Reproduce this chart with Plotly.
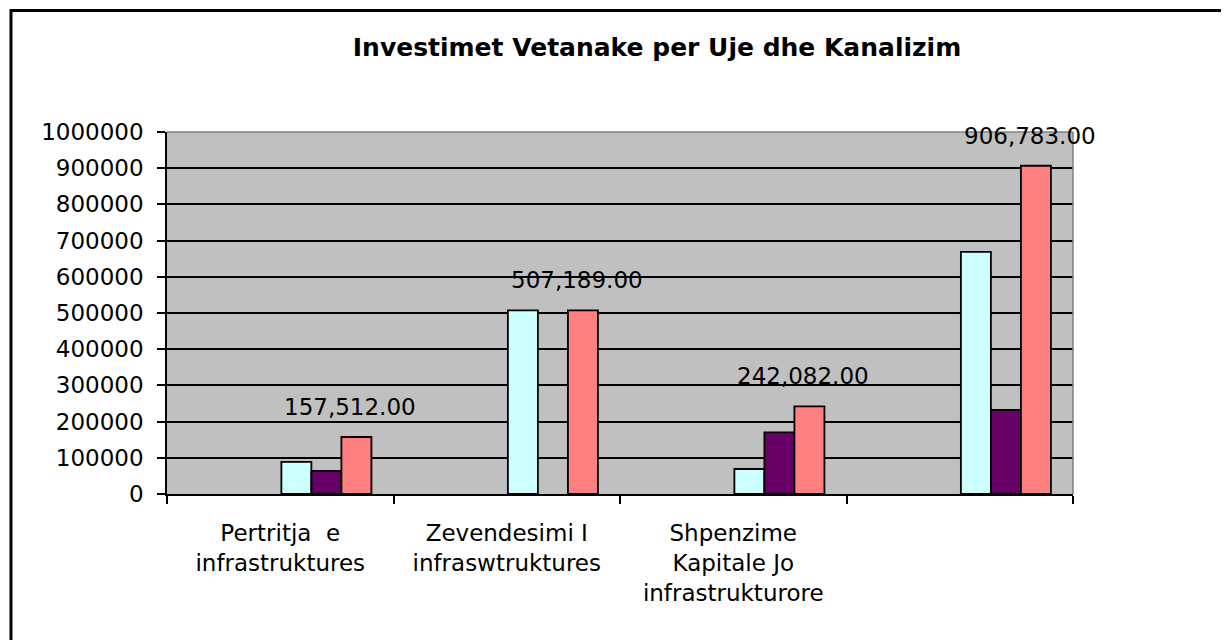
import plotly.graph_objects as go

categories = ["Pertritja  e<br>infrastruktures",
              "Zevendesimi I<br>infraswtruktures",
              "Shpenzime<br>Kapitale Jo<br>infrastrukturore",
              " "]
series_cyan = [89000, 507189, 69000, 669000]
series_purple = [63500, None, 170000, 232000]
series_salmon = [157512, 507189, 242082, 906783]
salmon_labels = ["157,512.00", "507,189.00", "242,082.00", "906,783.00"]
y_ticks = list(range(0, 1000001, 100000))

# page has an 8px body margin; the figure is sized to fill the rest of the window
PAD = 8
W, H = 1229 - PAD, 640 - PAD
L, R, T, B = 167 - PAD, 156, 132 - PAD, 146
FONT = "DejaVu Sans"

bar_w = 0.1325
offsets = [0.005, 0.005 + bar_w, 0.005 + 2 * bar_w]
colors = ["#CCFFFF", "#660066", "#FF8080"]
xs = list(range(len(categories)))
boundaries = [i - 0.5 for i in range(len(categories) + 1)]

fig = go.Figure()
for vals, off, col in zip([series_cyan, series_purple, series_salmon], offsets, colors):
    fig.add_trace(go.Bar(x=xs, y=vals, width=bar_w, offset=off,
                         marker=dict(color=col, line=dict(color="black", width=1.8)),
                         showlegend=False))

for i, (v, t) in enumerate(zip(series_salmon, salmon_labels)):
    fig.add_annotation(x=i + offsets[2] + bar_w / 2, y=v, text=t, showarrow=False,
                       xref="x", yref="y", yanchor="bottom", xanchor="center",
                       xshift=-6, yshift=15,
                       font=dict(family=FONT, size=23, color="black"))

pw = W - L - R
ph = H - T - B
fig.add_shape(type="rect", xref="paper", yref="paper",
              x0=(11 - PAD - L) / pw, x1=(W + 20 - L) / pw,
              y0=(H - B - (H + 20)) / ph, y1=(H - B - (10.5 - PAD)) / ph,
              line=dict(color="black", width=3), fillcolor="rgba(0,0,0,0)", layer="above")

fig.update_layout(
    width=W, height=H,
    margin=dict(l=L, r=R, t=T, b=B),
    paper_bgcolor="white", plot_bgcolor="#C0C0C0",
    barmode="overlay",
    title=dict(text="<b>Investimet Vetanake per Uje dhe Kanalizim</b>",
               x=(657 - PAD) / W, xref="container", xanchor="center",
               y=1 - (47 - PAD) / H, yref="container", yanchor="middle",
               font=dict(family=FONT, size=25, color="black")),
    font=dict(family=FONT, size=23, color="black"),
    xaxis=dict(range=[-0.5, 3.5], tickmode="array", tickvals=xs, ticktext=categories,
               showgrid=False, zeroline=False, showline=True, linecolor="black", linewidth=1.5,
               ticks="", tickangle=0, ticklabelstandoff=18,
               minor=dict(tickmode="array", tickvals=boundaries, ticks="outside",
                          ticklen=8, tickcolor="black", tickwidth=1.5, showgrid=False),
               tickfont=dict(family=FONT, size=23, color="black")),
    yaxis=dict(range=[0, 1000000], tickmode="array", tickvals=y_ticks,
               ticktext=[str(v) for v in y_ticks],
               showgrid=True, gridcolor="black", gridwidth=1.5, zeroline=False,
               showline=True, linecolor="black", linewidth=1.5,
               ticks="outside", ticklen=8, tickcolor="black", tickwidth=1.5,
               ticklabelstandoff=9,
               tickfont=dict(family=FONT, size=23, color="black")),
)
# gray plot-area border on top and right
fig.add_shape(type="line", xref="paper", yref="paper", x0=0, x1=1, y0=1, y1=1,
              line=dict(color="#808080", width=1.5))
fig.add_shape(type="line", xref="paper", yref="paper", x0=1, x1=1, y0=0, y1=1,
              line=dict(color="#808080", width=1.5))

fig.write_html("out.html")
